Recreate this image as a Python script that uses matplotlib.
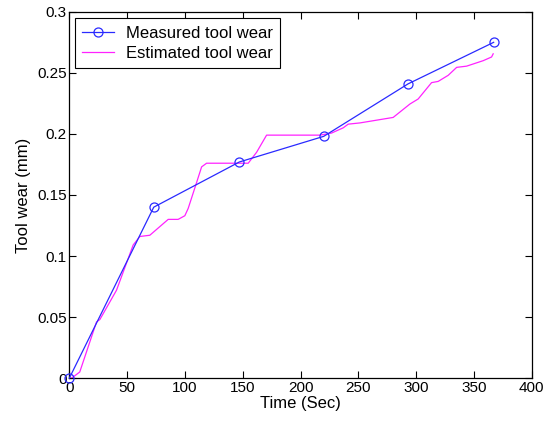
import matplotlib
matplotlib.use("Agg")
import matplotlib.pyplot as plt
from matplotlib.ticker import FuncFormatter

plt.rcParams['font.family'] = ['Liberation Sans', 'DejaVu Sans']

# Measured wear (markers)
meas_t = [0, 73, 147, 220, 293, 367]
meas_w = [0, 0.140, 0.177, 0.198, 0.241, 0.275]

# Estimated wear (continuous curve)
est_t = [0, 2, 9, 23.5, 26.4, 40.8, 55.2, 61, 69.6, 85.5, 94.1, 99.9, 102.8, 110,
         114.4, 118.7, 154.7, 162, 170.6, 216.7, 226.8, 236.9, 241.2, 251.3,
         280.1, 294.6, 301.7, 313.3, 319, 327.7, 335, 343.6, 358, 365.2, 366.6]
est_w = [0, 0, 0.005, 0.046, 0.048, 0.072, 0.109, 0.116, 0.117, 0.130, 0.130, 0.133,
         0.139, 0.160, 0.173, 0.176, 0.176, 0.185, 0.199, 0.199, 0.2007, 0.205,
         0.208, 0.209, 0.2135, 0.2245, 0.2286, 0.242, 0.243, 0.248, 0.2545, 0.2555,
         0.260, 0.263, 0.2656]

x_ticks = [0, 50, 100, 150, 200, 250, 300, 350, 400]
y_ticks = [0, 0.05, 0.1, 0.15, 0.2, 0.25, 0.3]

fig = plt.figure(figsize=(5.46, 4.22), dpi=100)
ax = fig.add_axes([0.127, 0.104, 0.847, 0.868])

ax.plot(meas_t, meas_w, color='#2a2aff', lw=0.9, marker='o', markersize=6.5,
        markerfacecolor='none', markeredgecolor='#2a2aff', markeredgewidth=0.9,
        label='Measured tool wear', clip_on=False, zorder=3)
ax.plot(est_t, est_w, color='#ff22ff', lw=0.9, label='Estimated tool wear', zorder=2)

ax.set_xlim(0, 400)
ax.set_ylim(0, 0.3)
ax.set_xticks(x_ticks)
ax.set_yticks(y_ticks)
ax.yaxis.set_major_formatter(FuncFormatter(lambda v, p: '%g' % v))
ax.tick_params(direction='in', top=True, right=True, length=5, width=0.8,
               labelsize=11, pad=2)
for s in ax.spines.values():
    s.set_linewidth(0.9)

ax.set_xlabel('Time (Sec)', fontsize=12, labelpad=1)
ax.set_ylabel('Tool wear (mm)', fontsize=12, labelpad=4)

leg = ax.legend(loc='upper left', bbox_to_anchor=(0.012, 0.983), borderaxespad=0,
                fontsize=12, fancybox=False, framealpha=1, edgecolor='black',
                handlelength=1.9, borderpad=0.45, labelspacing=0.3, handletextpad=0.7)
leg.get_frame().set_linewidth(0.8)

fig.savefig('out.png', dpi=100)
